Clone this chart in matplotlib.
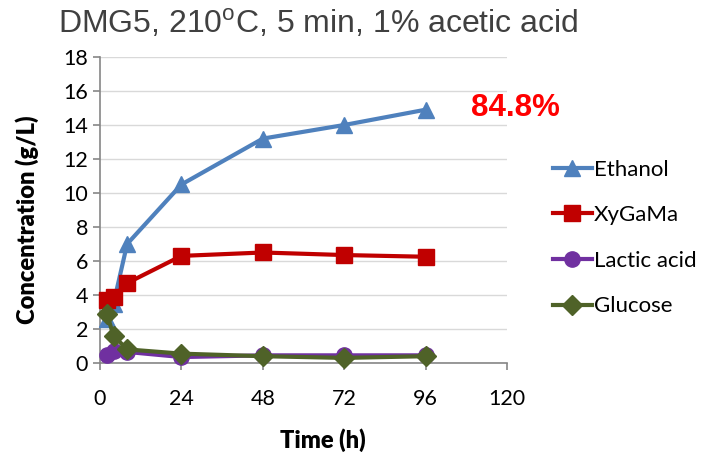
import numpy as np
import matplotlib
matplotlib.use('Agg')
import matplotlib.pyplot as plt

# data
time_h = [2, 4, 8, 24, 48, 72, 96]
ethanol = [2.6, 3.5, 7.0, 10.5, 13.2, 14.0, 14.9]
xygama = [3.7, 3.9, 4.7, 6.3, 6.5, 6.35, 6.25]
lactic = [0.45, 0.7, 0.65, 0.35, 0.45, 0.45, 0.45]
glucose = [2.9, 1.6, 0.8, 0.55, 0.4, 0.3, 0.4]

x_ticks = [0, 24, 48, 72, 96, 120]
y_ticks = list(range(0, 19, 2))
yield_text = '84.8%'

plt.rcParams['mathtext.fontset'] = 'custom'
plt.rcParams['mathtext.rm'] = 'Liberation Sans'

W, H = 701, 461
fig = plt.figure(figsize=(W/100, H/100), dpi=100)
ax = fig.add_axes([100/W, 1 - 363/H, 407/W, 306/H])

series = [
    ('Ethanol', ethanol, '#4F81BD', '^', 12),
    ('XyGaMa', xygama, '#C00000', 's', 11),
    ('Lactic acid', lactic, '#7030A0', 'o', 11),
    ('Glucose', glucose, '#4F6228', 'D', 10),
]
for name, vals, col, mk, ms in series:
    ax.plot(time_h, vals, color=col, marker=mk, markersize=ms, lw=3,
            label=name, clip_on=False, zorder=3)

ax.set_xlim(0, 120)
ax.set_ylim(0, 18)
ax.set_xticks(x_ticks)
ax.set_yticks(y_ticks)
ax.yaxis.grid(True, color='#D9D9D9', lw=1)
ax.set_axisbelow(True)
for s in ['top', 'right']:
    ax.spines[s].set_visible(False)
for s in ['left', 'bottom']:
    ax.spines[s].set_color('#868686')
    ax.spines[s].set_linewidth(1.2)
ax.tick_params(colors='#868686', length=5, width=1.2, labelcolor='black',
               labelsize=15.5)
ax.tick_params(axis='x', pad=14)
for lab in ax.get_xticklabels() + ax.get_yticklabels():
    lab.set_family('Lato')

ax.set_xlabel('Time (h)', family='Lato', fontweight='heavy', fontsize=17)
ax.set_ylabel('Concentration (g/L)', family='Lato', fontweight='heavy', fontsize=17)
# label centres, in axes fractions
ax.xaxis.set_label_coords((323 - 100) / 407, -(440 - 363) / 306)
ax.yaxis.set_label_coords(-(100 - 27) / 407, (363 - 220) / 306)
ax.xaxis.label.set_va('center')
ax.yaxis.label.set_va('center')

fig.text(318/W, 1 - 24/H, r'DMG5, 210$^{\mathrm{o}}$C, 5 min, 1% acetic acid',
         family='Liberation Sans', fontsize=23, color='#404040',
         ha='center', va='center')
fig.text(515/W, 1 - 108/H, yield_text, family='Liberation Sans',
         fontweight='bold', fontsize=22.5, color='#FF0000', ha='center', va='center')

fig.legend(loc='center left', bbox_to_anchor=(553/W, 1 - 238/H), frameon=False,
           prop={'family': 'Lato', 'size': 16}, handlelength=1.75, handletextpad=0.1,
           labelspacing=1.15, borderaxespad=0, borderpad=0)

fig.savefig('out.png', dpi=100)
